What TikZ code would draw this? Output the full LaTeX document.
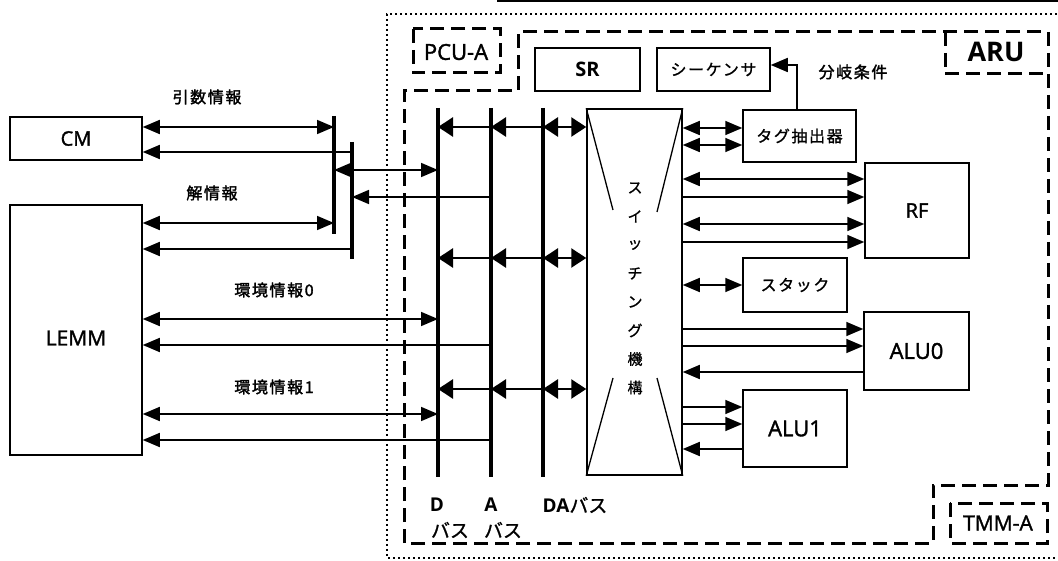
\documentclass[tikz,border=0pt]{standalone}
\usepackage{fontspec}
\setmainfont{Open Sans}
\newfontfamily\lat{Open Sans}[FakeBold=1.6]
\newfontfamily\jp{Noto Sans CJK JP}[LetterSpace=10, AutoFakeBold=2]
\newfontfamily\jpb{Noto Sans CJK JP}[LetterSpace=10, FakeBold=1.1]
\newfontfamily\jpn{Noto Sans CJK JP}[FakeBold=1.1]
\usetikzlibrary{arrows.meta,calc}
\newcommand\myfs[1]{\fontsize{#1}{#1}\selectfont}
\tikzset{
  myT/.tip={Triangle[length=17pt,width=14pt]},
  busT/.tip={Triangle[length=15pt,width=19pt]},
  box/.style={draw, line width=1.5pt, inner sep=0pt, font=\lat\myfs{20}},
  ln/.style={line width=1.6pt},
  dbl/.style={ln, myT-myT},
  one/.style={ln, -myT},
  busline/.style={line width=3.2pt},
  busone/.style={line width=2.8pt, -busT},
  busdbl/.style={line width=2.8pt, busT-busT},
  dashbox/.style={line width=3pt, dash pattern=on 14pt off 7pt},
  jplab/.style={font=\jp\bfseries\myfs{16}},
  jpbox/.style={box, font=\jpb\myfs{16}},
  swchar/.style={font=\jpn\myfs{15}, inner sep=0pt},
}
\begin{document}
\begin{tikzpicture}[x=1pt, y=-1pt]
\useasboundingbox (0,0) rectangle (1058,561);
\fill[white] (0,0) rectangle (1058,561);

% scan edge line
\draw[line width=2pt] (497,1) -- (1058,1);

% outer dotted frame
\draw[line width=1.6pt, dash pattern=on 1.6pt off 3.4pt] (1062,14) -- (387,14) -- (387,558) -- (1062,558);

% PCU-A
\draw[dashbox] (413,29) rectangle (500,73);
\node[font=\lat\myfs{22}] (pcu) at (456,52) {PCU-A};

% ARU region
\draw[dashbox] (404,543) -- (404,91) -- (518,91) -- (518,32) -- (1048,32) -- (1048,485) -- (933,485) -- (933,543) -- cycle;
\draw[dashbox] (945,32) -- (945,74) -- (1048,74);
\node[font=\bfseries\myfs{27}] (aru) at (996,52) {ARU};

% TMM-A
\draw[dashbox] (950,503) rectangle (1047,543);
\node[font=\lat\myfs{21}] (tmm) at (998,523) {TMM-A};

% left boxes
\node[box, minimum width=132, minimum height=43] (cm) at (76,138.5) {CM};
\node[box, minimum width=132, minimum height=250] (lemm) at (76,330) {};
\node[font=\lat\myfs{21}] (lemmt) at (76,338) {LEMM};

% upper boxes
\node[box, font=\bfseries\myfs{20}, minimum width=105, minimum height=43] (sr) at (587.5,69.5) {SR};
\node[jpbox, minimum width=113, minimum height=43] (seq) at (713.5,69.5) {シーケンサ};

% switch
\node[box, minimum width=95, minimum height=366] (sw) at (634.5,292) {};
\draw[line width=1.3pt] (sw.north west) -- (613,210);
\draw[line width=1.3pt] (sw.north east) -- (657,212);
\draw[line width=1.3pt] (sw.south west) -- (613,378);
\draw[line width=1.3pt] (sw.south east) -- (657,378);
\foreach \c [count=\i] in {ス,イ,ッ,チ,ン,グ,機,構} {
  \node[swchar] (swc\i) at (635,{188+28.5*(\i-1)}) {\c};
}

% right boxes
\node[jpbox, minimum width=113, minimum height=52] (tag) at (799.5,136) {タグ抽出器};
\node[box, minimum width=104, minimum height=95] (rf) at (917,210.5) {RF};
\node[jpbox, minimum width=104, minimum height=54] (stk) at (795,285) {スタック};
\node[box, font=\lat\myfs{22}, minimum width=105, minimum height=78] (alu0) at (916.5,351) {ALU0};
\node[box, font=\lat\myfs{22}, minimum width=104, minimum height=77] (alu1) at (795,428.5) {ALU1};

% buses
\coordinate (b1t) at (334,116); \coordinate (b1b) at (334,234);
\coordinate (b2t) at (352,142); \coordinate (b2b) at (352,259);
\coordinate (dt) at (438,108);  \coordinate (db) at (438,477);
\coordinate (at) at (491,108);  \coordinate (ab) at (491,477);
\coordinate (dat) at (543,108); \coordinate (dab) at (543,477);
\draw[busline] (b1t) -- (b1b);
\draw[busline] (b2t) -- (b2b);
\draw[busline] (dt) -- (db);
\draw[busline] (at) -- (ab);
\draw[busline] (dat) -- (dab);

% left connectors
\draw[dbl] (cm.east |- 0,127) -- (b1t |- 0,127);
\draw[one] (b2t |- 0,152) -- (cm.east |- 0,152);
\draw[dbl] (b1t |- 0,170) -- (dt |- 0,170);
\draw[one] (at |- 0,197) -- (b2t |- 0,197);
\draw[dbl] (lemm.east |- 0,223) -- (b1t |- 0,223);
\draw[one] (b2t |- 0,249) -- (lemm.east |- 0,249);
\draw[dbl] (lemm.east |- 0,319) -- (dt |- 0,319);
\draw[one] (at |- 0,345) -- (lemm.east |- 0,345);
\draw[dbl] (lemm.east |- 0,414) -- (dt |- 0,414);
\draw[one] (at |- 0,440) -- (lemm.east |- 0,440);

% bus to switch connectors
\foreach \yy in {127,258,389} {
  \draw[busone] (at |- 0,\yy) -- (dt |- 0,\yy);
  \draw[busone] (dat |- 0,\yy) -- (at |- 0,\yy);
  \draw[busdbl] (dat |- 0,\yy) -- (sw.west |- 0,\yy);
}

% right connectors
\draw[dbl] (sw.east |- 0,128) -- (tag.west |- 0,128);
\draw[dbl] (sw.east |- 0,145) -- (tag.west |- 0,145);
\draw[dbl] (sw.east |- 0,179) -- (rf.west |- 0,179);
\draw[one] (sw.east |- 0,197) -- (rf.west |- 0,197);
\draw[dbl] (sw.east |- 0,224) -- (rf.west |- 0,224);
\draw[one] (sw.east |- 0,242) -- (rf.west |- 0,242);
\draw[dbl] (sw.east |- 0,285) -- (stk.west |- 0,285);
\draw[one] (sw.east |- 0,329) -- (alu0.west |- 0,329);
\draw[one] (sw.east |- 0,346) -- (alu0.west |- 0,346);
\draw[one] (alu0.west |- 0,372) -- (sw.east |- 0,372);
\draw[one] (sw.east |- 0,407) -- (alu1.west |- 0,407);
\draw[one] (sw.east |- 0,424) -- (alu1.west |- 0,424);
\draw[one] (alu1.west |- 0,449) -- (sw.east |- 0,449);
\draw[one] (tag.north -| 797,0) |- (seq.east |- 0,65);

% labels
\node[jplab] (l1) at (207,97) {引数情報};
\node[jplab] (l2) at (212,193) {解情報};
\node[jplab] (l3) at (274,290) {環境情報0};
\node[jplab] (l4) at (274,387) {環境情報1};
\node[jplab] (l5) at (853,72) {分岐条件};

\node[font=\bfseries\myfs{19}] (dl) at (437,505) {D};
\node[font=\bfseries\myfs{19}] (al) at (491,505) {A};
\node[font=\myfs{19}] (dal) at (575,505) {\textbf{DA}{\jpn バス}};
\node[font=\jpn\myfs{19}] (db1) at (450,530) {バス};
\node[font=\jpn\myfs{19}] (db2) at (503,530) {バス};
\end{tikzpicture}
\end{document}
